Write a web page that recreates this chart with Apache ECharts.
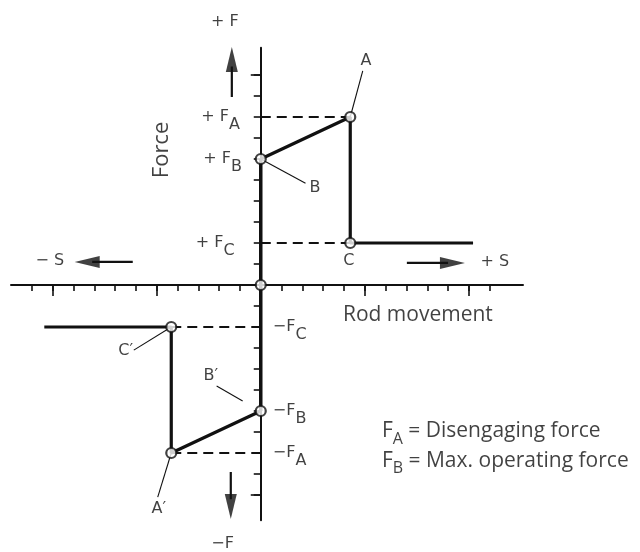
<!DOCTYPE html>
<html>
<head>
<meta charset="utf-8">
<script src="https://cdn.jsdelivr.net/npm/echarts@6.0.0/dist/echarts.min.js"></script>
<style>
html, body { margin: 0; padding: 0; background: #fff; }
#main { width: 640px; height: 552px; }
</style>
</head>
<body>
<div id="main"></div>
<script>
var dom = document.getElementById('main');
var myChart = echarts.init(dom, null, { renderer: 'canvas' });

const ink = '#111';

// tick marks on the two axes (rod movement S, force F)
var sTicks = [-11, -10, -9, -8, -7, -6, -5, -4, -3, -2, -1, 1, 2, 3, 4, 5, 6, 7, 8, 9, 10, 11];
var sMajor = [-10, -5, 5, 10];
var fTicks = [-10, -9, -8, -7, -6, -5, -4, -3, -2, -1, 1, 2, 3, 4, 5, 6, 7, 8, 9, 10];
var fMajor = [-10, 10];

// characteristic curve
var upperPath = [[0, 6], [4.3, 8], [4.3, 2], [10.2, 2]];
var lowerPath = [[-10.4, -2], [-4.3, -2], [-4.3, -8], [0, -6]];
var axisPath = [[0, -6], [0, 6]];
var dashes = [
    [[0, 8], [4.3, 8]],
    [[0, 2], [4.3, 2]],
    [[-4.3, -2], [0, -2]],
    [[-4.3, -8], [0, -8]]
];
var points = [[0, 0], [0, 6], [4.3, 8], [4.3, 2], [0, -6], [-4.3, -8], [-4.3, -2]];
var leaders = [
    [[4.3, 8], [4.9, 10.2]],
    [[0, 6], [2.15, 4.85]],
    [[-4.3, -2], [-6.1, -3.1]],
    [[-2.12, -4.81], [-0.87, -5.52]],
    [[-4.3, -8], [-4.95, -10.1]]
];

// direction arrows: shaft and head (centre, rotation)
var arrowShafts = [
    [[-1.39, 8.95], [-1.39, 10.4]],
    [[-1.44, -8.9], [-1.44, -10.2]],
    [[-6.15, 1.1], [-8.1, 1.1]],
    [[7.02, 1.05], [9.0, 1.05]]
];
var arrowHeads = [
    [-1.39, 10.74, 0],
    [-1.44, -10.55, 180],
    [-8.34, 1.1, 90],
    [9.21, 1.05, -90]
];

// lettering [x, y, text, side]
var letters = [
    [-1.73, 12.52, '+ F', 'inside'],
    [-1.0, 8, '+ F{s|A}', 'left'],
    [-0.9, 6, '+ F{s|B}', 'left'],
    [-1.25, 2, '+ F{s|C}', 'left'],
    [0.58, -2, '\u2212F{s|C}', 'right'],
    [0.58, -6, '\u2212F{s|B}', 'right'],
    [0.58, -8, '\u2212F{s|A}', 'right'],
    [-1.83, -12.33, '\u2212F', 'inside'],
    [-10.14, 1.14, '\u2212 S', 'inside'],
    [11.25, 1.1, '+ S', 'inside'],
    [5.05, 10.67, 'A', 'inside'],
    [2.6, 4.62, 'B', 'inside'],
    [4.23, 1.14, 'C', 'inside'],
    [-6.49, -3.14, 'C\u2032', 'inside'],
    [-2.4, -4.33, 'B\u2032', 'inside'],
    [-4.9, -10.67, 'A\u2032', 'inside']
];
var notes = [
    [-4.76, 6.43, 'Force', 'inside', 90, 22],
    [7.55, -1.43, 'Rod movement', 'inside', 0, 21],
    [5.82, -6.95, 'F{t|A} = Disengaging force', 'right', 0, 21],
    [5.82, -8.36, 'F{t|B} = Max. operating force', 'right', 0, 21]
];

function segSeries(data, width, dashed, z) {
    return {
        type: 'line',
        data: data,
        symbol: 'none',
        silent: true,
        z: z,
        lineStyle: { color: ink, width: width, type: dashed ? [10, 6] : 'solid' }
    };
}

var series = [];
dashes.forEach(function (d) { series.push(segSeries(d, 1.8, true, 2)); });
leaders.forEach(function (d) { series.push(segSeries(d, 1.1, false, 2)); });
arrowShafts.forEach(function (d) { series.push(segSeries(d, 2.2, false, 3)); });
series.push(segSeries(axisPath, 3.5, false, 4));
series.push(segSeries(upperPath, 3.2, false, 4));
series.push(segSeries(lowerPath, 3.2, false, 4));

series.push({
    type: 'scatter',
    data: arrowHeads.map(function (a) {
        return { value: [a[0], a[1]], symbolRotate: a[2] };
    }),
    symbol: 'triangle',
    symbolSize: [12, 25],
    itemStyle: { color: ink },
    silent: true,
    clip: false,
    z: 5
});

series.push({
    type: 'scatter',
    data: points,
    symbol: 'circle',
    symbolSize: 10,
    itemStyle: { color: '#fff', borderColor: ink, borderWidth: 2.2 },
    silent: true,
    z: 10
});

series.push({
    type: 'scatter',
    data: letters.map(function (l) {
        return { value: [l[0], l[1]], label: { formatter: l[2], position: l[3] } };
    }),
    symbolSize: 0,
    silent: true,
    clip: false,
    z: 11,
    label: {
        show: true,
        distance: 0,
        color: ink,
        fontFamily: 'DejaVu Sans',
        fontSize: 16,
        rich: {
            s: { fontFamily: 'DejaVu Sans', fontSize: 16, color: ink, padding: [15, 0, 0, 0] }
        }
    }
});

series.push({
    type: 'scatter',
    data: notes.map(function (l) {
        return { value: [l[0], l[1]], label: { formatter: l[2], position: l[3], rotate: l[4], fontSize: l[5] } };
    }),
    symbolSize: 0,
    silent: true,
    clip: false,
    z: 11,
    label: {
        show: true,
        distance: 0,
        color: ink,
        fontFamily: 'Open Sans',
        fontSize: 21,
        rich: {
            t: { fontFamily: 'Open Sans', fontSize: 16, color: ink, padding: [16, 0, 0, 0] }
        }
    }
});

function axisSet(min, max, ticks, len, pos, lineShow, lineWidth) {
    return {
        type: 'value',
        min: min,
        max: max,
        position: pos,
        axisLine: { show: lineShow, onZero: true, onZeroAxisIndex: 0, lineStyle: { color: ink, width: lineWidth } },
        axisTick: { show: true, customValues: ticks, length: len, lineStyle: { color: ink, width: 1.6 } },
        axisLabel: { show: false },
        splitLine: { show: false }
    };
}

var option = {
    animation: false,
    backgroundColor: '#fff',
    grid: { left: 11, top: 47.7, width: 512, height: 472.5, outerBoundsMode: 'none' },
    xAxis: [
        axisSet(-12, 12.6, sTicks, 6, 'bottom', true, 2),
        axisSet(-12, 12.6, sMajor, 11, 'bottom', false, 2)
    ],
    yAxis: [
        axisSet(-11.2, 11.3, fTicks, 7, 'left', true, 2),
        axisSet(-11.2, 11.3, fMajor, 10, 'left', false, 2)
    ],
    series: series
};

myChart.setOption(option);
window.addEventListener('resize', myChart.resize);
</script>
</body>
</html>
